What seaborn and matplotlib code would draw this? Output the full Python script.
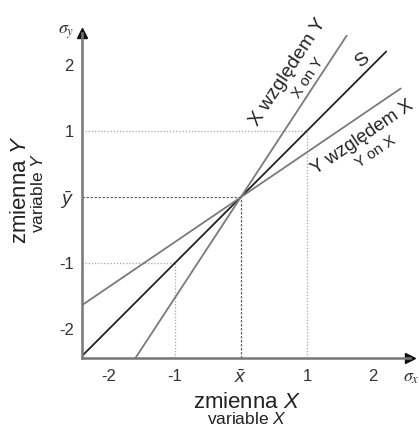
import numpy as np
import pandas as pd
import matplotlib
matplotlib.use("Agg")
import matplotlib.pyplot as plt
import seaborn as sns

# standardized units: x and y in sigma from the means
x_ticks = [-2, -1, 0, 1, 2]
x_tick_labels = ['-2', '-1', r'$\bar{x}$', '1', '2']
y_ticks = [-2, -1, 0, 1, 2]
y_tick_labels = ['-2', '-1', r'$\bar{y}$', '1', '2']

# regression lines (end points)
s_x = [-2.42, 2.2]
s_y = [-2.42, 2.2]
yx_x = [-2.41, 2.42]      # Y on X
yx_y = [-1.64, 1.64]
xy_x = [-1.6, 1.6]        # X on Y
xy_y = [-2.44, 2.44]

xlim = (-2.41, 2.56)
ylim = (-2.44, 2.48)

sns.set_style('white')
plt.rcParams['font.family'] = ['Liberation Sans', 'DejaVu Sans']
plt.rcParams['mathtext.fontset'] = 'custom'
plt.rcParams['mathtext.rm'] = 'Liberation Sans'
plt.rcParams['mathtext.it'] = 'Liberation Sans:italic'

fig = plt.figure(figsize=(4.19, 4.26), dpi=100)
W, H = 419, 426
ax = fig.add_axes([82 / W, 1 - 358 / H, (410 - 82) / W, (358 - 33) / H])
ax.set_xlim(*xlim)
ax.set_ylim(*ylim)

axis_col = '#777777'
guide_col = '#a5a5a5'

# dotted guides
for v in [1, -1]:
    ax.plot([xlim[0], v], [v, v], color=guide_col, lw=0.9, ls=(0, (1, 1.5)))
    ax.plot([v, v], [ylim[0], v], color=guide_col, lw=0.9, ls=(0, (1, 1.5)))
ax.plot([xlim[0], 0], [0, 0], color='#666666', lw=0.9, ls=(0, (2, 1.2)))
ax.plot([0, 0], [ylim[0], 0], color='#666666', lw=0.9, ls=(0, (2, 1.2)))

lines = pd.DataFrame({
    'x': s_x + yx_x + xy_x,
    'y': s_y + yx_y + xy_y,
    'line': ['S'] * 2 + ['Y on X'] * 2 + ['X on Y'] * 2,
})
sns.lineplot(data=lines, x='x', y='y', hue='line', sort=False, estimator=None,
             palette={'S': '#222222', 'Y on X': '#7a7a7a', 'X on Y': '#7a7a7a'},
             linewidth=1.3, legend=False, ax=ax)

# axes with arrows
sns.despine(ax=ax)
for sp in ['left', 'bottom']:
    ax.spines[sp].set_color(axis_col)
    ax.spines[sp].set_linewidth(1.8)
ax.plot(1, 0, '>', transform=ax.transAxes, color='#111111', ms=7, clip_on=False)
ax.plot(0, 1, '^', transform=ax.transAxes, color='#111111', ms=7, clip_on=False)

ax.set_xticks(x_ticks)
ax.set_xticklabels(x_tick_labels)
ax.set_yticks(y_ticks)
ax.set_yticklabels(y_tick_labels)
ax.tick_params(axis='both', direction='out', length=3, width=0.8, color=axis_col,
               labelsize=12, labelcolor='#333333', pad=3)
ax.tick_params(axis='x', pad=5)
for lab in ax.get_xticklabels() + ax.get_yticklabels():
    if 'bar' in lab.get_text():
        lab.set_fontsize(14)
ax.set_xlabel('')
ax.set_ylabel('')

# axis unit labels
fig.text(66 / W, 1 - 32 / H, r'$\sigma_y$', fontsize=13, ha='center', va='center',
         color='#333333', math_fontfamily='stix')
fig.text(411 / W, 1 - 377 / H, r'$\sigma_x$', fontsize=13, ha='center', va='center',
         color='#333333', math_fontfamily='stix')

# axis titles
fig.text(247 / W, 1 - 402 / H, r'zmienna $X$', fontsize=16, ha='center', va='center',
         color='#222222')
fig.text(247 / W, 1 - 419 / H, r'variable $X$', fontsize=12.5, ha='center', va='center',
         color='#222222')
fig.text(20 / W, 1 - 190 / H, r'zmienna $Y$', fontsize=16, ha='center', va='center',
         rotation=90, color='#222222')
fig.text(38 / W, 1 - 193 / H, r'variable $Y$', fontsize=12.5, ha='center', va='center',
         rotation=90, color='#222222')

# line labels
ang_xy = np.degrees(np.arctan(1.52))
ang_yx = np.degrees(np.arctan(0.68))
fig.text(288 / W, 1 - 72 / H, 'X względem Y', fontsize=14, rotation=ang_xy,
         ha='center', va='center', rotation_mode='anchor', color='#222222')
fig.text(308 / W, 1 - 78 / H, 'X on Y', fontsize=11, rotation=ang_xy,
         ha='center', va='center', rotation_mode='anchor', color='#222222')
fig.text(362 / W, 1 - 60 / H, 'S', fontsize=14, rotation=ang_yx + 5,
         ha='center', va='center', rotation_mode='anchor', color='#222222')
fig.text(362 / W, 1 - 137 / H, 'Y względem X', fontsize=13.5, rotation=ang_yx,
         ha='center', va='center', rotation_mode='anchor', color='#222222')
fig.text(376 / W, 1 - 152 / H, 'Y on X', fontsize=11, rotation=ang_yx,
         ha='center', va='center', rotation_mode='anchor', color='#222222')

fig.savefig('out.png', dpi=100)
